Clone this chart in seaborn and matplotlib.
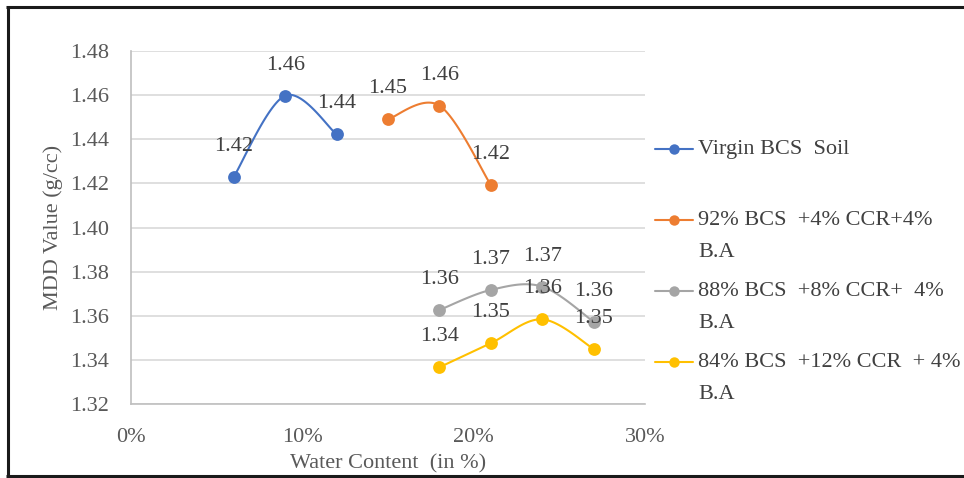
import numpy as np
import matplotlib
matplotlib.use("Agg")
import matplotlib.pyplot as plt
from matplotlib.lines import Line2D
from matplotlib.ticker import PercentFormatter, FixedLocator
import seaborn as sns

# Water content (%) and maximum dry density (g/cc) for each mix
virgin_w = [6, 9, 12]
virgin_mdd = [1.4230, 1.4597, 1.4422]
mix92_w = [15, 18, 21]
mix92_mdd = [1.4490, 1.4552, 1.4193]
mix88_w = [18, 21, 24, 27]
mix88_mdd = [1.3627, 1.3718, 1.3733, 1.3574]
mix84_w = [18, 21, 24, 27]
mix84_mdd = [1.3368, 1.3477, 1.3585, 1.3451]

series_labels = [
    "Virgin BCS  Soil\n ",
    "92% BCS  +4% CCR+4%\nB.A",
    "88% BCS  +8% CCR+  4%\nB.A",
    "84% BCS  +12% CCR  + 4%\nB.A",
]
series_colors = ["#4472C4", "#ED7D31", "#A5A5A5", "#FFC000"]
x_ticks = [0, 10, 20, 30]
y_ticks = [1.32, 1.34, 1.36, 1.38, 1.40, 1.42, 1.44, 1.46, 1.48]

sns.set_theme(style="white")
plt.rcParams["font.family"] = ["Liberation Serif", "DejaVu Serif"]

TEXT = "#595959"
LABEL = "#404040"
FS = 16


def smooth(xs, ys, n=40):
    """Bezier smoothing through every point (Catmull-Rom style tangents)."""
    p = np.column_stack([xs, ys]).astype(float)
    ext = np.vstack([p[:1], p, p[-1:]])
    t = np.linspace(0, 1, n)[1:, None]
    parts = [p[:1]]
    for i in range(len(p) - 1):
        a, b = ext[i + 1], ext[i + 2]
        c1 = a + (ext[i + 2] - ext[i]) / 6
        c2 = b - (ext[i + 3] - ext[i + 1]) / 6
        parts.append((1 - t) ** 3 * a + 3 * (1 - t) ** 2 * t * c1
                     + 3 * (1 - t) * t ** 2 * c2 + t ** 3 * b)
    return np.vstack(parts)


fig = plt.figure(figsize=(9.64, 4.78), dpi=100)
W, H = 964, 478
ax = fig.add_axes([131 / W, 1 - 404.4 / H, (645 - 131) / W, (404.4 - 50.8) / H])

series = [(virgin_w, virgin_mdd), (mix92_w, mix92_mdd),
          (mix88_w, mix88_mdd), (mix84_w, mix84_mdd)]

handles = []
for (xs, ys), color in zip(series, series_colors):
    curve = smooth(xs, ys)
    sns.lineplot(x=curve[:, 0], y=curve[:, 1], sort=False, estimator=None,
                 color=color, lw=1.5, ax=ax, zorder=3)
    sns.scatterplot(x=xs, y=ys, color=color, s=85, linewidth=0, ax=ax,
                    zorder=4, legend=False)
    for xv, yv in zip(xs, ys):
        ax.annotate(f"{yv:.2f}", (xv, yv), xytext=(0, 22),
                    textcoords="offset points", ha="center", va="center",
                    fontsize=FS, color=LABEL, zorder=5)
    handles.append(Line2D([], [], color=color, lw=1.5, marker="o",
                          markersize=7.5, markeredgewidth=0))

ax.set_xlim(0, 30)
ax.set_ylim(1.32, 1.48)
ax.xaxis.set_major_locator(FixedLocator(x_ticks))
ax.xaxis.set_major_formatter(PercentFormatter(xmax=100, decimals=0))
ax.yaxis.set_major_locator(FixedLocator(y_ticks))
ax.yaxis.set_major_formatter(plt.FormatStrFormatter("%.2f"))
ax.grid(axis="y", color="#D9D9D9", lw=1.2)
ax.grid(axis="x", visible=False)
for side in ["top", "right"]:
    ax.spines[side].set_visible(False)
for side in ["left", "bottom"]:
    ax.spines[side].set_color("#BFBFBF")
    ax.spines[side].set_linewidth(1.2)
ax.tick_params(axis="both", length=0, labelsize=FS, labelcolor=TEXT)
ax.tick_params(axis="y", pad=16)
ax.tick_params(axis="x", pad=17)
ax.set_xlabel("Water Content  (in %)", fontsize=FS, color=TEXT, labelpad=5)
ax.set_ylabel("MDD Value (g/cc)", fontsize=FS, color=TEXT, labelpad=5)

leg = fig.legend(handles, series_labels, loc="upper left",
                 bbox_to_anchor=(655 / W, 1 - 140 / H), frameon=False,
                 fontsize=FS, handlelength=1.7, handletextpad=0.25,
                 labelspacing=0.9, borderpad=0, borderaxespad=0,
                 labelcolor=LABEL, handleheight=1.1)
for t in leg.get_texts():
    t.set_linespacing(1.93)
for col in leg._legend_handle_box.get_children():
    for item in col.get_children():
        item.align = "top"

# outer frame on left, top and bottom
frame_kw = dict(color="#1a1a1a", lw=2.2, transform=fig.transFigure,
                solid_capstyle="butt")
fig.add_artist(Line2D([7.5 / W, 7.5 / W], [1 - 6 / H, 1 - 476 / H], **frame_kw))
fig.add_artist(Line2D([6.4 / W, 1.0], [1 - 6.5 / H, 1 - 6.5 / H], **frame_kw))
fig.add_artist(Line2D([6.4 / W, 1.0], [1 - 476 / H, 1 - 476 / H], **frame_kw))

fig.savefig("out.png", dpi=100)
